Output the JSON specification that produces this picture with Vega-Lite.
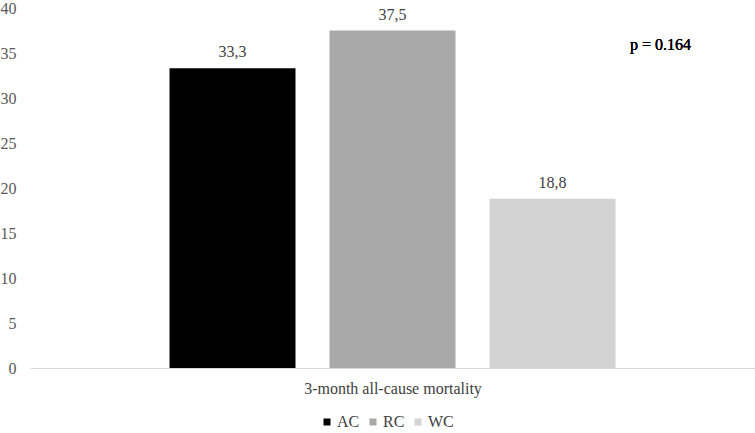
{
  "$schema": "https://vega.github.io/schema/vega-lite/v6.json",
  "autosize": {"type": "none"},
  "width": 725,
  "height": 360,
  "padding": {"left": 30, "top": 8, "right": 0, "bottom": 65},
  "background": "white",
  "config": {
    "view": {"stroke": null},
    "font": "Liberation Serif, Times New Roman, serif",
    "axis": {"labelFont": "Liberation Serif, Times New Roman, serif", "titleFont": "Liberation Serif, Times New Roman, serif"},
    "legend": {"labelFont": "Liberation Serif, Times New Roman, serif"},
    "text": {"font": "Liberation Serif, Times New Roman, serif", "fontWeight": "normal"}
  },
  "data": {
    "values": [
      {"group": "AC", "value": 33.3, "label": "33,3"},
      {"group": "RC", "value": 37.5, "label": "37,5"},
      {"group": "WC", "value": 18.8, "label": "18,8"}
    ]
  },
  "encoding": {
    "x": {
      "field": "group",
      "type": "nominal",
      "sort": ["AC", "RC", "WC"],
      "scale": {"paddingInner": 0.2125, "paddingOuter": 0.872},
      "axis": {
        "title": "3-month all-cause mortality",
        "labels": false,
        "ticks": false,
        "domain": true,
        "domainColor": "#d9d9d9",
        "domainWidth": 1,
        "titleFontSize": 16,
        "titleFontWeight": "normal",
        "titleColor": "#404040",
        "titlePadding": 12
      }
    }
  },
  "layer": [
    {
      "mark": {"type": "bar"},
      "encoding": {
        "y": {
          "field": "value",
          "type": "quantitative",
          "scale": {"domain": [0, 40]},
          "axis": {
            "title": null,
            "values": [0, 5, 10, 15, 20, 25, 30, 35, 40],
            "grid": false,
            "domain": false,
            "ticks": false,
            "labelFontSize": 16,
            "labelColor": "#595959",
            "labelPadding": 14
          }
        },
        "color": {
          "field": "group",
          "type": "nominal",
          "sort": ["AC", "RC", "WC"],
          "scale": {"domain": ["AC", "RC", "WC"], "range": ["#000000", "#a9a9a9", "#d3d3d3"]},
          "legend": {
            "title": null,
            "orient": "none",
            "legendX": 289,
            "legendY": 406,
            "direction": "horizontal",
            "symbolType": "square",
            "symbolSize": 49,
            "symbolStrokeWidth": 0,
            "labelFontSize": 16,
            "labelColor": "#404040",
            "labelOffset": 2,
            "columnPadding": 5
          }
        }
      }
    },
    {
      "mark": {"type": "text", "baseline": "bottom", "dy": -8, "fontSize": 16, "color": "#404040", "fontWeight": "normal"},
      "encoding": {
        "y": {"field": "value", "type": "quantitative"},
        "text": {"field": "label"}
      }
    },
    {
      "mark": {"type": "text", "fontSize": 16, "color": "#000000", "dx": 108, "baseline": "middle", "fontWeight": "normal"},
      "encoding": {
        "x": {"datum": "WC"},
        "y": {"datum": 35.9},
        "text": {"value": "p = 0.164"}
      }
    }
  ]
}
